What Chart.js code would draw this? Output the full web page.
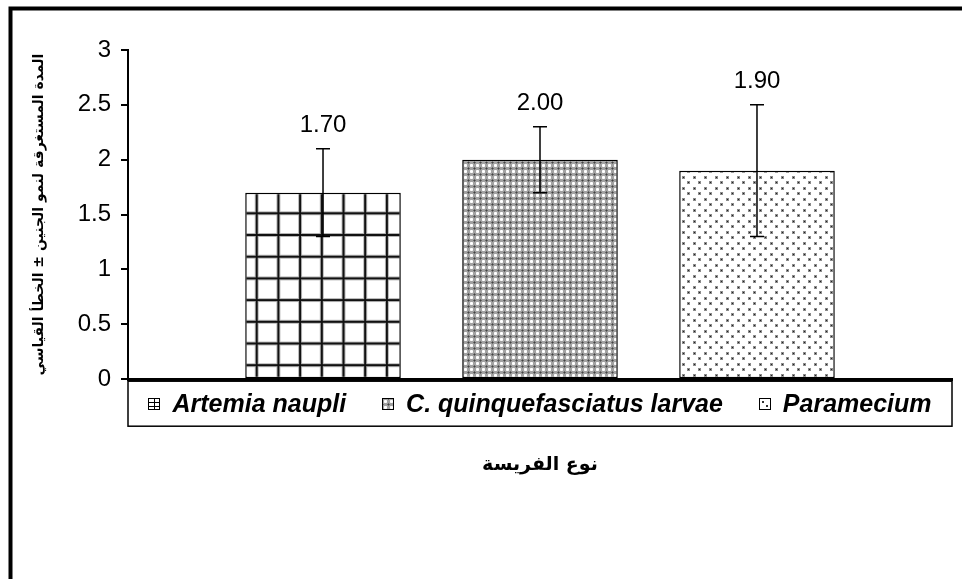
<!DOCTYPE html>
<html lang="ar">
<head>
  <meta charset="UTF-8" />
  <title>نوع الفريسة</title>
  <script src="https://cdn.jsdelivr.net/npm/chart.js"></script>
  <style>
    html, body { margin: 0; background: #fff; }
    #wrap { position: relative; width: 962px; height: 579px; }
  </style>
</head>
<body>
  <div id="wrap"><canvas id="chart"></canvas></div>

  <script>
    // data
    const seriesNames = ['Artemia naupli', 'C. quinquefasciatus larvae', 'Paramecium'];
    const meanValues = [1.70, 2.00, 1.90];
    const errorValues = [0.40, 0.30, 0.60];
    const yTicks = [0, 0.5, 1, 1.5, 2, 2.5, 3];
    const yTitle = 'المدة المستغرقة لنمو الجنين ± الخطأ القياسي';
    const xTitle = 'نوع الفريسة';

    const latin = '"Liberation Sans", Arial, sans-serif';
    const arabic = '"DejaVu Sans", sans-serif';

    const canvas = document.getElementById('chart');
    const ctx = canvas.getContext('2d');

    function makeTile(w, h, draw) {
      const c = document.createElement('canvas');
      c.width = w;
      c.height = h;
      draw(c.getContext('2d'), w, h);
      return c;
    }

    // bar fills
    const gridTile = makeTile(22, 22, (g) => {
      g.fillStyle = '#fff'; g.fillRect(0, 0, 22, 22);
      g.fillStyle = '#b4b4b4'; g.fillRect(0, 0, 4, 22); g.fillRect(0, 0, 22, 4);
      g.fillStyle = '#111'; g.fillRect(1, 0, 2, 22); g.fillRect(0, 1, 22, 2);
    });
    const diamondTile = makeTile(6, 6, (g) => {
      g.fillStyle = '#a2a2a2'; g.fillRect(0, 0, 6, 6);
      g.fillStyle = '#fff';
      g.fillRect(2, 3, 3, 1); g.fillRect(3, 2, 1, 3);
      g.fillStyle = '#ececec';
      g.fillRect(2, 2, 1, 1); g.fillRect(4, 2, 1, 1); g.fillRect(2, 4, 1, 1); g.fillRect(4, 4, 1, 1);
      g.fillStyle = '#444'; g.fillRect(0, 0, 1, 1);
      g.fillStyle = '#6a6a6a';
      g.fillRect(1, 0, 1, 1); g.fillRect(5, 0, 1, 1); g.fillRect(0, 1, 1, 1); g.fillRect(0, 5, 1, 1);
    });
    const dotTile = makeTile(11, 11, (g) => {
      g.fillStyle = '#fff'; g.fillRect(0, 0, 11, 11);
      g.fillStyle = '#8c8c8c'; g.fillRect(0, 0, 3, 3); g.fillRect(5, 5, 3, 3);
      g.fillStyle = '#222'; g.fillRect(1, 1, 1, 1); g.fillRect(6, 6, 1, 1);
    });

    const gridPattern = ctx.createPattern(gridTile, 'repeat');
    gridPattern.setTransform(new DOMMatrix().translate(16, 16).scale(21.7 / 22));
    const fills = [gridPattern, ctx.createPattern(diamondTile, 'repeat'), ctx.createPattern(dotTile, 'repeat')];

    // small legend icons
    const icons = [
      makeTile(12, 12, (g) => {
        g.fillStyle = '#fff'; g.fillRect(0, 0, 12, 12);
        g.fillStyle = '#000';
        g.fillRect(0, 4, 12, 1); g.fillRect(0, 8, 12, 1); g.fillRect(6, 0, 1, 12);
        g.lineWidth = 1; g.strokeStyle = '#000'; g.strokeRect(0.5, 0.5, 11, 11);
      }),
      makeTile(12, 12, (g) => {
        g.fillStyle = ctx.createPattern(diamondTile, 'repeat'); g.fillRect(0, 0, 12, 12);
        g.lineWidth = 1; g.strokeStyle = '#000'; g.strokeRect(0.5, 0.5, 11, 11);
      }),
      makeTile(12, 12, (g) => {
        g.fillStyle = '#fff'; g.fillRect(0, 0, 12, 12);
        g.fillStyle = '#333'; g.fillRect(3, 3, 2, 2); g.fillRect(7, 7, 2, 2);
        g.lineWidth = 1; g.strokeStyle = '#000'; g.strokeRect(0.5, 0.5, 11, 11);
      })
    ];

    const framePlugin = {
      id: 'frame',
      beforeDraw(chart) {
        const c = chart.ctx;
        c.save();
        c.strokeStyle = '#000';
        c.lineWidth = 4;
        c.beginPath();
        c.moveTo(10.5, chart.height + 5);
        c.lineTo(10.5, 8.5);
        c.lineTo(chart.width + 5, 8.5);
        c.stroke();
        c.restore();
      }
    };

    const errorBarsPlugin = {
      id: 'errorBars',
      afterDatasetsDraw(chart) {
        const c = chart.ctx;
        const y = chart.scales.y;
        c.save();
        c.strokeStyle = '#000';
        c.lineWidth = 1.5;
        c.fillStyle = '#000';
        c.font = '24px ' + latin;
        c.textAlign = 'center';
        c.textBaseline = 'alphabetic';
        chart.data.datasets.forEach((ds, i) => {
          const bar = chart.getDatasetMeta(i).data[0];
          const top = y.getPixelForValue(meanValues[i] + errorValues[i]);
          const bottom = y.getPixelForValue(meanValues[i] - errorValues[i]);
          c.beginPath();
          c.moveTo(bar.x, top); c.lineTo(bar.x, bottom);
          c.moveTo(bar.x - 7, top); c.lineTo(bar.x + 7, top);
          c.moveTo(bar.x - 7, bottom); c.lineTo(bar.x + 7, bottom);
          c.stroke();
          c.fillText(meanValues[i].toFixed(2), bar.x, top - 17);
        });
        c.restore();
      }
    };

    const boxLegendPlugin = {
      id: 'boxLegend',
      afterDraw(chart) {
        const c = chart.ctx;
        const area = chart.chartArea;
        const top = area.bottom + 2;
        const h = 45;
        c.save();
        c.strokeStyle = '#000';
        c.lineWidth = 1.5;
        c.strokeRect(area.left, top, area.right - area.left, h);
        c.font = 'italic bold 25px ' + latin;
        const widths = seriesNames.map(n => 24 + c.measureText(n).width);
        const gap = 36;
        const total = widths.reduce((a, b) => a + b, 0) + gap * (widths.length - 1);
        let x = (area.left + area.right) / 2 - total / 2;
        const cy = top + h / 2;
        c.textBaseline = 'middle';
        c.fillStyle = '#000';
        seriesNames.forEach((n, i) => {
          c.drawImage(icons[i], Math.round(x), Math.round(cy - 6));
          c.fillText(n, x + 24, cy + 1);
          x += widths[i] + gap;
        });
        c.restore();
      }
    };

    new Chart(ctx, {
      type: 'bar',
      data: {
        labels: [''],
        datasets: seriesNames.map((name, i) => ({
          label: name,
          data: [meanValues[i]],
          backgroundColor: fills[i],
          borderColor: '#000',
          borderWidth: 1.5,
          borderSkipped: false,
          categoryPercentage: 0.79,
          barPercentage: 0.717
        }))
      },
      options: {
        responsive: true,
        maintainAspectRatio: false,
        animation: false,
        layout: { padding: { top: 50, right: 10, bottom: 103, left: 0 } },
        plugins: {
          legend: { display: false },
          tooltip: { enabled: false }
        },
        scales: {
          x: {
            grid: { display: false, drawTicks: false },
            border: { display: true, color: '#000', width: 3 },
            ticks: { display: false },
            title: {
              display: true,
              text: xTitle,
              color: '#000',
              font: { family: arabic, size: 19, weight: 'bold' },
              padding: { top: 74, bottom: 0 }
            }
          },
          y: {
            min: yTicks[0],
            max: yTicks[yTicks.length - 1],
            afterBuildTicks: (s) => { s.ticks = yTicks.map(v => ({ value: v })); },
            afterFit: (s) => { s.width = 128; },
            border: { display: true, color: '#000', width: 2 },
            grid: { drawOnChartArea: false, drawTicks: true, tickLength: 7, color: '#000', lineWidth: 2 },
            ticks: {
              color: '#000',
              font: { family: latin, size: 24 },
              padding: 10,
              callback: (v) => String(v)
            },
            title: {
              display: true,
              text: yTitle,
              color: '#000',
              font: { family: arabic, size: 14, weight: 'bold' },
              padding: { top: 31, bottom: 0 }
            }
          }
        }
      },
      plugins: [framePlugin, errorBarsPlugin, boxLegendPlugin]
    });
  </script>
</body>
</html>
